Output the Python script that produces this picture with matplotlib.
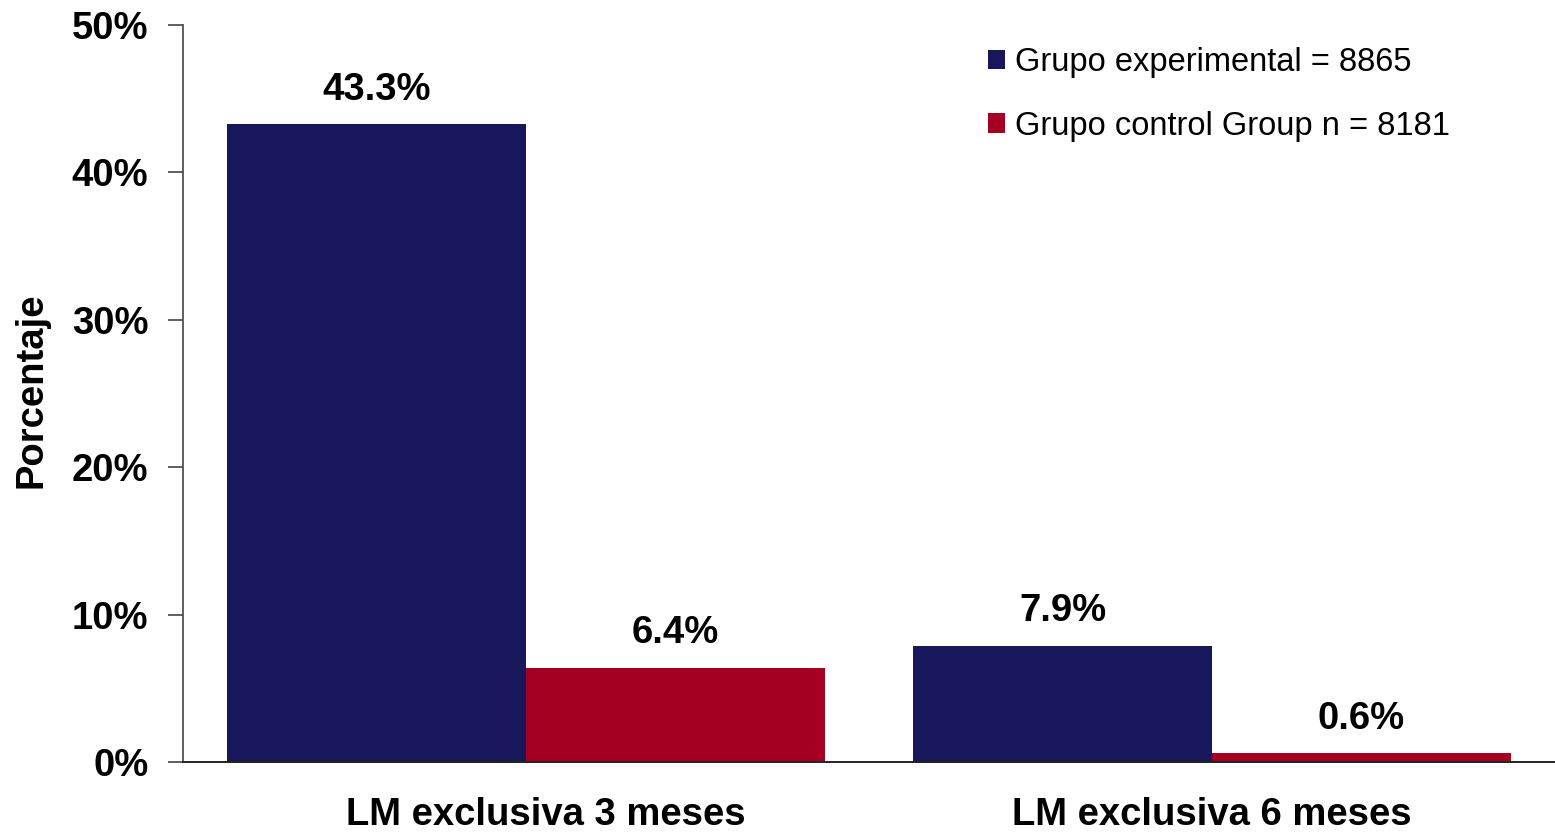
import matplotlib.pyplot as plt
import matplotlib.transforms as mtransforms
import numpy as np

plt.rcParams['font.family'] = ['Liberation Sans', 'DejaVu Sans']

categorias = ["LM exclusiva 3 meses", "LM exclusiva 6 meses"]
series = ["Grupo experimental = 8865", "Grupo control Group n = 8181"]
experimental = [43.3, 7.9]
control = [6.4, 0.6]
colores = ["#18175c", "#a50021"]

fig = plt.figure(figsize=(15.55, 8.35), dpi=100)
ax = fig.add_axes([0.1177, 0.0874, 0.8823, 0.8826])

x = np.arange(len(categorias))
w = 0.436
b1 = ax.bar(x - w / 2, experimental, w, color=colores[0], label=series[0])
b2 = ax.bar(x + w / 2, control, w, color=colores[1], label=series[1])

for bars, vals in [(b1, experimental), (b2, control)]:
    for r, v in zip(bars, vals):
        ax.text(r.get_x() + r.get_width() / 2, v + 1.1, f"{v:.1f}%",
                ha="center", va="bottom", fontsize=27.5, fontweight="bold")

ax.set_xlim(-0.5, 1.5)
ax.set_ylim(0, 50)
ax.set_yticks(range(0, 51, 10))
ax.set_yticklabels([f"{t}%" for t in range(0, 51, 10)], fontsize=27.5, fontweight="bold")
ax.set_xticks(x)
ax.set_xticklabels(categorias, fontsize=27.5, fontweight="bold")
ax.tick_params(axis="x", length=0, pad=25)
ax.tick_params(axis="y", length=11, width=1.2, color="#444444", pad=14)
ax.set_ylabel("Porcentaje", fontsize=27.5, fontweight="bold")
ax.yaxis.set_label_coords(-0.097, 0.505)

# first category label sits a little right of the group centre in the original
lbl = ax.get_xticklabels()[0]
lbl.set_transform(lbl.get_transform() + mtransforms.ScaledTranslation(0.2, 0, fig.dpi_scale_trans))

for s in ["top", "right"]:
    ax.spines[s].set_visible(False)
ax.spines["left"].set_color("#444444")
ax.spines["left"].set_linewidth(1.2)
ax.spines["bottom"].set_color("#222222")
ax.spines["bottom"].set_linewidth(1.4)

leg = ax.legend(loc="upper left", bbox_to_anchor=(0.565, 1.01), frameon=False,
                fontsize=23.5, handlelength=0.54, handleheight=0.54, handletextpad=0.3,
                labelspacing=1.0)

fig.savefig("out.png", dpi=100)
